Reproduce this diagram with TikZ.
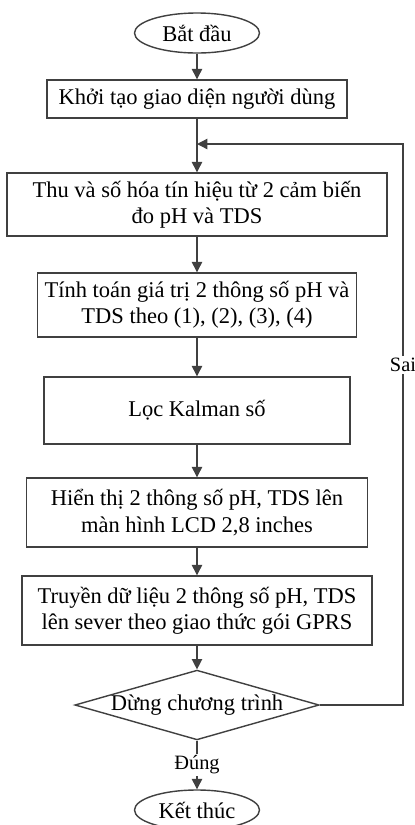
\documentclass[tikz,border=0pt]{standalone}
\usepackage{fontspec}
\setmainfont{Liberation Serif}
\usepackage{tikz}
\usetikzlibrary{arrows.meta, positioning, shapes.geometric}

\begin{document}
\begin{tikzpicture}[
    procbox/.style={rectangle, draw=black!75, line width=1pt, minimum height=#1, align=center, font=\fontsize{16}{18.6}\selectfont, inner sep=2pt},
    term/.style={ellipse, draw=black!75, line width=1pt, minimum width=3.125cm, minimum height=1cm, inner sep=0pt, font=\fontsize{16}{18.6}\selectfont},
    decide/.style={diamond, draw=black!75, line width=1pt, aspect=3.5, inner sep=0pt, minimum width=5.925cm, minimum height=1.7cm, font=\fontsize{16}{18.6}\selectfont},
    arr/.style={-{Triangle[length=2.6mm, width=2.6mm]}, draw=black!75, line width=0.9pt},
    lbl/.style={font=\fontsize{14.5}{16}\selectfont, fill=white, inner sep=1.5pt},
]
\useasboundingbox (0,0) rectangle (10.375,-20.625);
\clip (0,0) rectangle (10.375,-20.625);

% ========== START / INIT ==========
\node[term] at (4.925,-0.825) (start) {Bắt đầu};
\node[procbox=0.95cm, minimum width=7.5cm] at (4.925,-2.475) (init) {Khởi tạo giao diện người dùng};
\coordinate (merge) at (4.925,-3.6);

% ========== MAIN LOOP ==========
\node[procbox=1.575cm, minimum width=9.5cm] at (4.925,-5.1125) (acq) {Thu và số hóa tín hiệu từ 2 cảm biến\\đo pH và TDS};
\node[procbox=1.6cm, minimum width=7.975cm] at (4.925,-7.625) (calc) {Tính toán giá trị 2 thông số pH và\\TDS theo (1), (2), (3), (4)};
\node[procbox=1.675cm, minimum width=7.65cm] at (4.925,-10.2625) (kalman) {Lọc Kalman số};
\node[procbox=1.725cm, minimum width=8.525cm] at (4.925,-12.8125) (lcd) {Hiển thị 2 thông số pH, TDS lên\\màn hình LCD 2,8 inches};
\node[procbox=1.725cm, minimum width=8.75cm] at (4.925,-15.2625) (gprs) {Truyền dữ liệu 2 thông số pH, TDS\\lên sever theo giao thức gói GPRS};

% ========== DECISION / END ==========
\node[decide] at (4.925,-17.625) (stop) {Dừng chương trình};
\node[term] at (4.925,-20.25) (finish) {Kết thúc};

% ========== CONNECTIONS ==========
\draw[arr] (start) -- (init);
\draw[arr] (init) -- (acq);
\draw[arr] (acq) -- (calc);
\draw[arr] (calc) -- (kalman);
\draw[arr] (kalman) -- (lcd);
\draw[arr] (lcd) -- (gprs);
\draw[arr] (gprs) -- (stop);
\draw[arr] (stop) -- node[lbl] {Đúng} (finish);

% --- Sai: back to the top of the loop ---
\draw[arr] (stop.east) -- (10.075,-17.625) |- node[lbl, pos=0.303] {Sai} (merge);

\end{tikzpicture}
\end{document}
